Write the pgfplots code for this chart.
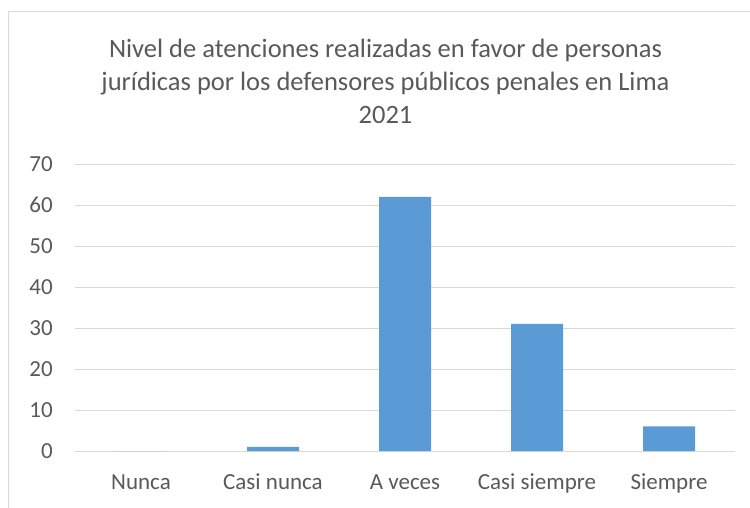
\documentclass[border=0pt]{standalone}
\usepackage{fontspec}
\setmainfont{Carlito}
\usepackage{pgfplots}
\pgfplotsset{compat=1.18}
\definecolor{txt}{HTML}{595959}
\definecolor{grd}{HTML}{D9D9D9}
\definecolor{barc}{HTML}{5B9BD5}
\begin{document}
\begin{tikzpicture}[x=1pt,y=1pt]
\path[use as bounding box] (0,0) rectangle (750,507);
\clip (0,0) rectangle (750,507);
\draw[grd, line width=1pt] (8,-10) rectangle (800,495);
\begin{scope}[every node/.style={txt, font=\fontsize{26.5}{31}\selectfont, anchor=base, inner sep=0pt}]
\node at (385.5,449) {Nivel de atenciones realizadas en favor de personas};
\node at (385.5,416) {jurídicas por los defensores públicos penales en Lima};
\node at (385.5,383) {2021};
\end{scope}
\begin{axis}[
  at={(75pt,56pt)}, anchor=south west,
  scale only axis, width=660pt, height=287pt,
  xmin=-0.5, xmax=4.5, ymin=0, ymax=70,
  ytick={0,10,...,70},
  xtick={0,1,2,3,4},
  xticklabels={Nunca,Casi nunca,A veces,Casi siempre,Siempre},
  axis line style={draw=none},
  major tick style={draw=none},
  ymajorgrids, grid style={grd, line width=1pt},
  ticklabel style={txt, font=\fontsize{23}{27}\selectfont},
  /pgf/number format/assume math mode=true,
  xticklabel style={anchor=base, inner sep=0pt, yshift=-38pt},
  yticklabel style={anchor=east, inner sep=0pt, xshift=-22pt},
  clip=false,
]
\addplot[ybar, fill=barc, draw=none, bar width=52pt] coordinates {(0,0) (1,1) (2,62) (3,31) (4,6)};
\end{axis}
\end{tikzpicture}
\end{document}
